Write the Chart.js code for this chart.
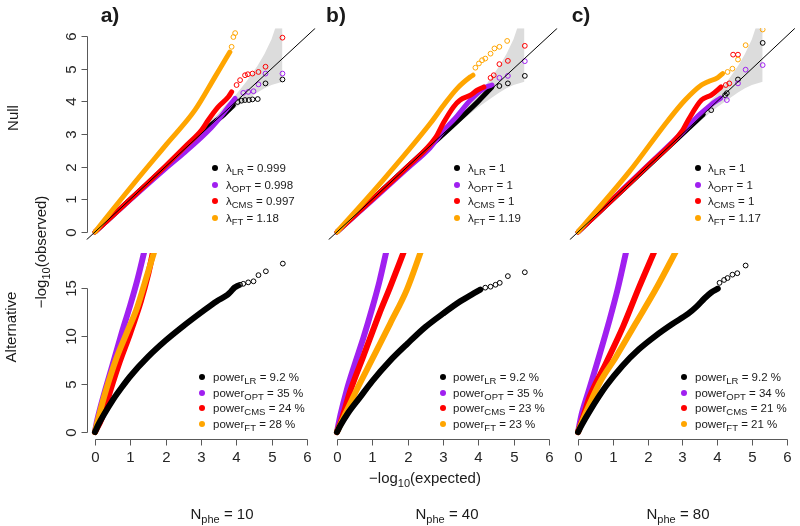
<!DOCTYPE html>
<html>
<head>
<meta charset="utf-8">
<script src="https://cdn.jsdelivr.net/npm/chart.js@4.4.0/dist/chart.umd.min.js"></script>
<style>
    body { margin: 0; background: #fff; font-family: "Liberation Sans", Arial, sans-serif; color: #1a1a1a; }
    #fig { position: relative; width: 800px; height: 526px; overflow: hidden; }
    #fig canvas { position: absolute; left: 0; top: 0; }
    .lbl { position: absolute; white-space: nowrap; transform: translate(-50%, -50%); font-size: 15px; }
    .rot { transform: translate(-50%, -50%) rotate(-90deg); }
    .panel { font-weight: bold; font-size: 21px; }
    .leg { position: absolute; white-space: nowrap; font-size: 11.5px; line-height: 12px; transform: translateY(-50%); }
    .dot { position: absolute; width: 6px; height: 6px; border-radius: 50%; transform: translate(-50%, -50%); }
    .sub { font-size: 9.5px; position: relative; top: 3px; }
    .sub15 { font-size: 11px; position: relative; top: 4px; }
</style>
</head>
<body>
<div id="fig">
    <canvas id="nullA" width="800" height="526"></canvas>
    <canvas id="nullB" width="800" height="526"></canvas>
    <canvas id="nullC" width="800" height="526"></canvas>
    <canvas id="altA" width="800" height="526"></canvas>
    <canvas id="altB" width="800" height="526"></canvas>
    <canvas id="altC" width="800" height="526"></canvas>
</div>
<script>
// ---- data (x = -log10(expected), y = -log10(observed)) ----
const methods = ["LR", "OPT", "CMS", "FT"];
const colors = ["#000000", "#A020F0", "#FF0000", "#FFA500"];

const lambdaA = ["0.999", "0.998", "0.997", "1.18"];
const lambdaB = ["1", "1", "1", "1.19"];
const lambdaC = ["1", "1", "1", "1.17"];
const powerA = ["9.2", "35", "24", "28"];
const powerB = ["9.2", "35", "23", "23"];
const powerC = ["9.2", "34", "21", "21"];
const nPhe = [10, 40, 80];

const xTicks = [0, 1, 2, 3, 4, 5, 6];
const nullYTicks = [0, 1, 2, 3, 4, 5, 6];
const altYTicks = [0, 5, 10, 15];

// y = x reference line and the grey 95% band
const diagX = [-0.5, 6.5];
const bandX = [3.0, 3.5, 3.8, 4.0, 4.3, 4.6, 4.8, 5.0, 5.31];
const bandUpper = [3.1, 3.65, 4.0, 4.22, 4.62, 5.08, 5.45, 5.9, 6.9];
const bandLower = [2.9, 3.38, 3.65, 3.82, 4.05, 4.27, 4.4, 4.5, 4.6];

// null, N_phe = 10
const nullA_LR = [[0, 0], [1, 1], [2, 2], [3, 3], [3.4, 3.38], [3.59, 3.53], [3.78, 3.73], [3.92, 3.88]];
const nullA_LR_tail = [[4.04, 3.98], [4.15, 4.02], [4.25, 4.04], [4.36, 4.04], [4.46, 4.06], [4.61, 4.07], [4.83, 4.55], [5.31, 4.67]];
const nullA_OPT = [[0, 0], [1, 0.98], [2, 1.94], [2.5, 2.4], [3, 2.88], [3.3, 3.2], [3.49, 3.43], [3.78, 3.83], [3.97, 4.09]];
const nullA_OPT_tail = [[4.2, 4.26], [4.34, 4.29], [4.49, 4.31], [4.63, 4.52], [4.83, 4.85], [5.31, 4.85]];
const nullA_CMS = [[0, 0], [1, 1.0], [2, 2.02], [2.6, 2.66], [3.02, 3.12], [3.21, 3.43], [3.49, 3.83], [3.78, 4.14], [3.87, 4.29]];
const nullA_CMS_tail = [[4.01, 4.5], [4.11, 4.65], [4.25, 4.8], [4.33, 4.83], [4.46, 4.85], [4.63, 4.9], [4.83, 5.06], [5.31, 5.95]];
const nullA_FT = [[0, 0], [0.5, 0.68], [1.09, 1.47], [2.03, 2.69], [2.83, 3.73], [3.4, 4.75], [3.68, 5.26], [3.82, 5.51]];
const nullA_FT_tail = [[3.87, 5.67], [3.92, 5.97], [3.97, 6.09]];

// null, N_phe = 40
const nullB_LR = [[0, 0], [2, 2], [4, 4], [4.39, 4.44]];
const nullB_LR_tail = [[4.6, 4.47], [4.84, 4.55], [5.32, 4.78]];
const nullB_OPT = [[0, 0], [1, 0.97], [2, 1.95], [2.64, 2.58], [3.02, 3.1], [3.4, 3.55], [3.78, 4.04], [4.16, 4.4], [4.39, 4.5]];
const nullB_OPT_tail = [[4.6, 4.72], [4.84, 4.78], [5.32, 5.23]];
const nullB_CMS = [[0, 0], [1, 1], [2, 2], [2.8, 2.9], [3.02, 3.35], [3.3, 3.83], [3.49, 4.04], [3.78, 4.19], [3.97, 4.34], [4.16, 4.44]];
const nullB_CMS_tail = [[4.35, 4.72], [4.44, 4.8], [4.6, 5.14], [4.84, 5.24], [5.32, 5.7]];
const nullB_FT = [[0, 0], [1.22, 1.48], [2.64, 3.32], [3.02, 3.88], [3.4, 4.39], [3.78, 4.75], [3.85, 4.8]];
const nullB_FT_tail = [[3.92, 5.03], [4.02, 5.16], [4.11, 5.26], [4.2, 5.31], [4.35, 5.46], [4.46, 5.62], [4.6, 5.67], [4.82, 5.85]];

// null, N_phe = 80
const nullC_LR = [[0, 0], [2, 2], [3.6, 3.6]];
const nullC_LR_tail = [[3.83, 3.73], [4.23, 4.19], [4.28, 4.25], [4.6, 4.67], [5.31, 5.79]];
const nullC_OPT = [[0, 0], [2, 2.03], [3, 3.05], [3.5, 3.6], [3.83, 3.9], [4.1, 4.1]];
const nullC_OPT_tail = [[4.28, 4.04], [4.6, 4.55], [4.82, 4.97], [5.31, 5.11]];
const nullC_CMS = [[0, 0], [2, 2.02], [3, 3.1], [3.17, 3.43], [3.55, 4.04], [3.83, 4.19], [4.11, 4.44]];
const nullC_CMS_tail = [[4.25, 4.5], [4.35, 4.55], [4.46, 5.43], [4.6, 5.43]];
const nullC_FT = [[0, 0], [1.47, 1.84], [2.6, 3.43], [3.08, 4.04], [3.55, 4.5], [3.74, 4.6], [4.02, 4.73], [4.16, 4.85]];
const nullC_FT_tail = [[4.3, 4.9], [4.44, 5.0], [4.6, 5.28], [4.82, 5.72], [5.31, 6.2]];

// alternative, N_phe = 10
const altA_LR = [[0, 0], [0.1, 0.8], [0.25, 1.8], [0.5, 3.3], [0.75, 4.6], [1.0, 5.8], [1.5, 7.8], [2.0, 9.5], [2.5, 11.0], [3.0, 12.4], [3.45, 13.6], [3.75, 14.25], [3.85, 14.6], [3.95, 15.0], [4.05, 15.2]];
const altA_LR_tail = [[4.11, 15.3], [4.2, 15.4], [4.34, 15.55], [4.49, 15.66], [4.63, 16.3], [4.84, 16.7], [5.32, 17.5]];
const altA_OPT = [[0, 0], [0.05, 1], [0.15, 2.5], [0.3, 4.5], [0.5, 7], [0.75, 10.2], [1.0, 13.2], [1.2, 15.8], [1.4, 18.8]];
const altA_CMS = [[0, 0], [0.2, 1.5], [0.45, 4.5], [0.7, 7.3], [1.0, 10.3], [1.3, 13.6], [1.5, 16.3], [1.65, 18.8]];
const altA_FT = [[0, 0], [0.1, 1.5], [0.3, 4.2], [0.6, 7.6], [0.9, 10.3], [1.2, 13], [1.45, 16], [1.7, 19]];

// alternative, N_phe = 40
const altB_LR = [[0, 0], [0.1, 0.7], [0.3, 1.9], [0.65, 3.6], [1.0, 5.3], [1.5, 7.4], [2.0, 9.2], [2.5, 10.9], [3.0, 12.3], [3.5, 13.6], [3.87, 14.4], [4.06, 14.8]];
const altB_LR_tail = [[4.2, 15.0], [4.35, 15.1], [4.49, 15.3], [4.61, 15.5], [4.84, 16.2], [5.32, 16.6]];
const altB_OPT = [[0, 0], [0.1, 1.8], [0.28, 4.4], [0.5, 7.0], [0.75, 9.8], [1.0, 12.9], [1.2, 15.6], [1.4, 18.8]];
const altB_CMS = [[0, 0], [0.15, 1.5], [0.37, 4.2], [0.75, 7.9], [1.2, 12.3], [1.5, 15], [1.9, 18.8]];
const altB_FT = [[0, 0], [0.2, 1.6], [0.56, 4.4], [1.03, 7.8], [1.51, 11.3], [1.98, 14.8], [2.4, 19]];

// alternative, N_phe = 80
const altC_LR = [[0, 0], [0.1, 0.7], [0.34, 2.2], [0.81, 4.8], [1.28, 6.9], [1.75, 8.6], [2.23, 10.0], [2.7, 11.2], [3.17, 12.3], [3.4, 13.0], [3.64, 13.9], [3.83, 14.5], [4.02, 14.9]];
const altC_LR_tail = [[4.07, 15.5], [4.2, 15.8], [4.3, 16.0], [4.44, 16.35], [4.58, 16.5], [4.82, 17.3]];
const altC_OPT = [[0, 0], [0.1, 1.8], [0.3, 4.2], [0.55, 7.2], [0.91, 11.7], [1.15, 15], [1.4, 19]];
const altC_CMS = [[0, 0], [0.15, 1.6], [0.34, 3.7], [0.81, 7.2], [1.3, 11.0], [1.75, 15], [2.2, 18.8]];
const altC_FT = [[0, 0], [0.2, 1.8], [0.62, 5.1], [1.09, 7.8], [1.66, 11.3], [2.23, 14.8], [2.85, 19]];

// ---- layout ----
const colLeft = [86.5, 328.5, 569.7];
const colWidth = 228.8;
const nullRow = { top: 28.2, bottom: 239.8, min: -0.24, max: 6.24 };
const altRow = { top: 253, bottom: 439, min: -0.72, max: 18.6 };

const pts = (arr) => arr.map(([x, y]) => ({ x: x, y: y }));
const zip = (xs, ys) => xs.map((x, i) => [x, ys[i]]);

function denseSet(arr, color, width, order) {
    return {
        data: pts(arr), showLine: true, borderColor: color, borderWidth: width,
        pointRadius: 0, borderCapStyle: "round", borderJoinStyle: "round",
        cubicInterpolationMode: "monotone", order: order, clip: 0
    };
}

function tailSet(arr, color, order) {
    return {
        data: pts(arr), showLine: false, borderColor: color, backgroundColor: "rgba(0,0,0,0)",
        pointRadius: 2.4, pointBorderWidth: 1, pointBorderColor: color,
        pointBackgroundColor: "rgba(0,0,0,0)", order: order, clip: 0
    };
}

function bandSets() {
    return [
        { data: pts(zip(bandX, bandUpper)), showLine: true, borderWidth: 0, pointRadius: 0,
          fill: "+1", backgroundColor: "#dcdcdc", order: 20, clip: 0 },
        { data: pts(zip(bandX, bandLower)), showLine: true, borderWidth: 0, pointRadius: 0,
          fill: false, order: 21, clip: 0 }
    ];
}

function diagSet() {
    return { data: pts(zip(diagX, diagX)), showLine: true, borderColor: "#000", borderWidth: 1,
             pointRadius: 0, order: 0, clip: 0 };
}

// R-style axes: line from first to last tick, outward ticks, rotated y labels
function axesPlugin(xt, yt) {
    return {
        id: "rAxes",
        afterDraw(chart) {
            const ctx = chart.ctx;
            const area = chart.chartArea;
            ctx.save();
            ctx.strokeStyle = "#595959";
            ctx.fillStyle = "#262626";
            ctx.lineWidth = 1;
            ctx.font = '15px "Liberation Sans", Arial, sans-serif';
            if (xt) {
                const y = Math.round(area.bottom) + 0.5;
                const px = xt.map((v) => Math.round(chart.scales.x.getPixelForValue(v)) + 0.5);
                ctx.beginPath();
                ctx.moveTo(px[0], y);
                ctx.lineTo(px[px.length - 1], y);
                px.forEach((p) => { ctx.moveTo(p, y); ctx.lineTo(p, y + 6); });
                ctx.stroke();
                ctx.textAlign = "center";
                ctx.textBaseline = "alphabetic";
                xt.forEach((v, i) => ctx.fillText(String(v), px[i], y + 22.5));
            }
            if (yt) {
                const x = Math.round(area.left) + 0.5;
                const py = yt.map((v) => Math.round(chart.scales.y.getPixelForValue(v)) + 0.5);
                ctx.beginPath();
                ctx.moveTo(x, py[0]);
                ctx.lineTo(x, py[py.length - 1]);
                py.forEach((p) => { ctx.moveTo(x, p); ctx.lineTo(x - 6, p); });
                ctx.stroke();
                ctx.textAlign = "center";
                ctx.textBaseline = "alphabetic";
                yt.forEach((v, i) => {
                    ctx.save();
                    ctx.translate(x - 11.5, py[i]);
                    ctx.rotate(-Math.PI / 2);
                    ctx.fillText(String(v), 0, 0);
                    ctx.restore();
                });
            }
            ctx.restore();
        }
    };
}

function makeChart(id, col, row, datasets, xt, yt) {
    const left = colLeft[col];
    new Chart(document.getElementById(id), {
        type: "line",
        data: { datasets: datasets },
        options: {
            responsive: false,
            animation: false,
            events: [],
            layout: {
                padding: { left: left, right: 800 - left - colWidth, top: row.top, bottom: 526 - row.bottom }
            },
            scales: {
                x: { type: "linear", min: -0.24, max: 6.24, display: false },
                y: { type: "linear", min: row.min, max: row.max, display: false }
            },
            plugins: { legend: { display: false }, tooltip: { enabled: false } }
        },
        plugins: [axesPlugin(xt, yt)]
    });
}

function nullSets(lr, lrT, opt, optT, cms, cmsT, ft, ftT) {
    return bandSets().concat([
        denseSet(lr, colors[0], 5, 4), tailSet(lrT, colors[0], 4),
        denseSet(opt, colors[1], 5, 3), tailSet(optT, colors[1], 3),
        denseSet(cms, colors[2], 5, 2), tailSet(cmsT, colors[2], 2),
        denseSet(ft, colors[3], 5, 1), tailSet(ftT, colors[3], 1),
        diagSet()
    ]);
}

function altSets(lr, lrT, opt, cms, ft) {
    return [
        denseSet(opt, colors[1], 6, 4),
        denseSet(cms, colors[2], 6, 3),
        denseSet(ft, colors[3], 6, 2),
        denseSet(lr, colors[0], 6, 1), tailSet(lrT, colors[0], 1)
    ];
}

makeChart("nullA", 0, nullRow, nullSets(nullA_LR, nullA_LR_tail, nullA_OPT, nullA_OPT_tail, nullA_CMS, nullA_CMS_tail, nullA_FT, nullA_FT_tail), null, nullYTicks);
makeChart("nullB", 1, nullRow, nullSets(nullB_LR, nullB_LR_tail, nullB_OPT, nullB_OPT_tail, nullB_CMS, nullB_CMS_tail, nullB_FT, nullB_FT_tail), null, null);
makeChart("nullC", 2, nullRow, nullSets(nullC_LR, nullC_LR_tail, nullC_OPT, nullC_OPT_tail, nullC_CMS, nullC_CMS_tail, nullC_FT, nullC_FT_tail), null, null);
makeChart("altA", 0, altRow, altSets(altA_LR, altA_LR_tail, altA_OPT, altA_CMS, altA_FT), xTicks, altYTicks);
makeChart("altB", 1, altRow, altSets(altB_LR, altB_LR_tail, altB_OPT, altB_CMS, altB_FT), xTicks, null);
makeChart("altC", 2, altRow, altSets(altC_LR, altC_LR_tail, altC_OPT, altC_CMS, altC_FT), xTicks, null);

// ---- text: titles, axis labels, legends ----
const fig = document.getElementById("fig");

function addText(html, x, y, cls) {
    const el = document.createElement("div");
    el.className = "lbl " + (cls || "");
    el.style.left = x + "px";
    el.style.top = y + "px";
    el.innerHTML = html;
    fig.appendChild(el);
}

function addLegend(dotX, textX, rows, prefix, values, unit) {
    methods.forEach((m, i) => {
        const dot = document.createElement("div");
        dot.className = "dot";
        dot.style.left = dotX + "px";
        dot.style.top = rows[i] + "px";
        dot.style.background = colors[i];
        fig.appendChild(dot);

        const txt = document.createElement("div");
        txt.className = "leg";
        txt.style.left = textX + "px";
        txt.style.top = rows[i] + "px";
        txt.innerHTML = prefix + '<span class="sub">' + m + "</span> = " + values[i] + unit;
        fig.appendChild(txt);
    });
}

addText("a)", 110, 15, "panel");
addText("b)", 336, 15, "panel");
addText("c)", 581, 15, "panel");
addText("Null", 12, 118, "rot");
addText("Alternative", 10, 327, "rot");
addText('\u2212log<span class="sub15">10</span>(observed)', 40, 252, "rot");
addText('\u2212log<span class="sub15">10</span>(expected)', 425, 477, "");

const nPheX = [222, 447, 678];
nPhe.forEach((n, i) => {
    addText('N<span class="sub15">phe</span> = ' + n, nPheX[i], 513, "");
});

const nullRows = [168, 184.5, 201, 217.5];
const altRows = [377, 392.5, 408, 423.5];
addLegend(215, 226, nullRows, "\u03bb", lambdaA, "");
addLegend(457, 468, nullRows, "\u03bb", lambdaB, "");
addLegend(698, 708, nullRows, "\u03bb", lambdaC, "");
addLegend(202, 213, altRows, "power", powerA, " %");
addLegend(443, 453, altRows, "power", powerB, " %");
addLegend(684, 695, altRows, "power", powerC, " %");
</script>
</body>
</html>
